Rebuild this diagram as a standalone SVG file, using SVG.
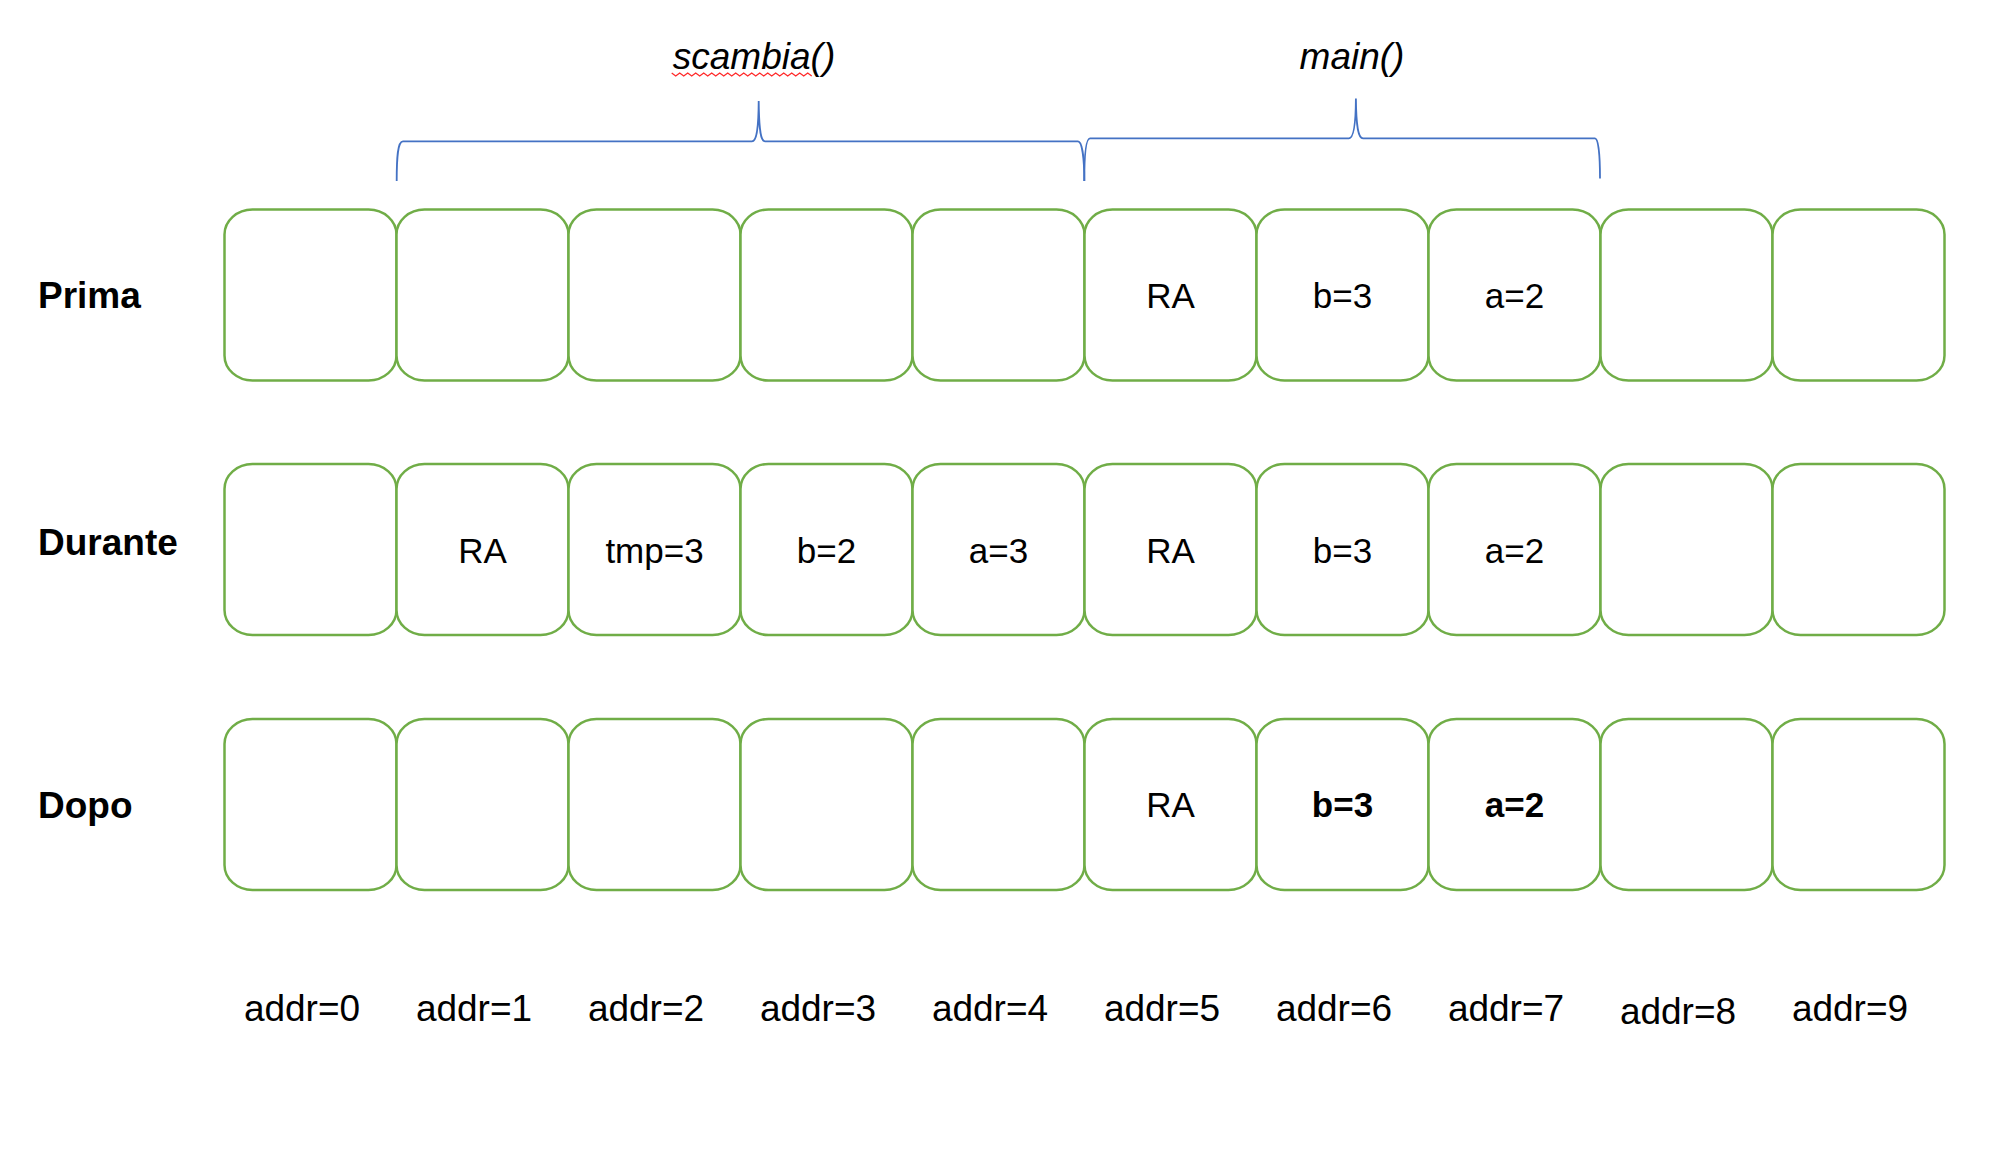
<svg xmlns="http://www.w3.org/2000/svg" width="2000" height="1168" viewBox="0 0 2000 1168">
<style>
.cell{fill:#ffffff;stroke:#70AD47;stroke-width:2.5}
.brace{fill:none;stroke:#4472C4;stroke-width:1.8}
.t{font-family:"Liberation Sans",Arial,sans-serif;fill:#000000}
.v{font-size:35px;text-anchor:middle}
.vb{font-size:35px;text-anchor:middle;font-weight:bold}
.row{font-size:37px;font-weight:bold}
.addr{font-size:37px;text-anchor:middle}
.fn{font-size:37px;font-style:italic;text-anchor:middle}
</style>
<defs>
<rect id="c" class="cell" width="172" height="171" rx="28" ry="25"/>
</defs>
<rect width="2000" height="1168" fill="#ffffff"/>

<g id="connectors">
<path class="brace" d="M396.7 181 C396.7 158 397.5 141.3 403 141.3 L752 141.3 C756 141.3 758.5 132 758.7 101 C759 132 761 141.3 765 141.3 L1078 141.3 C1082 141.3 1084.3 158 1084.3 181"/>
<path class="brace" d="M1084.3 181 C1084.3 158 1085.5 138.3 1090 138.3 L1349 138.3 C1353 138.3 1355.7 128 1355.9 98.5 C1356.2 128 1358.5 138.3 1363 138.3 L1595 138.3 C1598.5 138.3 1600 156 1600 178.5"/>
<path d="M671.7 73 l4 3 l4 -3 l4 3 l4 -3 l4 3 l4 -3 l4 3 l4 -3 l4 3 l4 -3 l4 3 l4 -3 l4 3 l4 -3 l4 3 l4 -3 l4 3 l4 -3 l4 3 l4 -3 l4 3 l4 -3 l4 3 l4 -3 l4 3 l4 -3 l4 3 l4 -3 l4 3 l4 -3 l4 3 l4 -3 l4 3 l4 -3 l4 3" fill="none" stroke="#FF2A2A" stroke-width="1.3"/>
</g>

<g id="labels-top">
<text class="t fn" x="754" y="69">scambia()</text>
<text class="t fn" x="1352" y="69">main()</text>
</g>

<g id="row-prima">
<text class="t row" x="38" y="308">Prima</text>
<use href="#c" x="224.5" y="209.5"/>
<use href="#c" x="396.5" y="209.5"/>
<use href="#c" x="568.5" y="209.5"/>
<use href="#c" x="740.5" y="209.5"/>
<use href="#c" x="912.5" y="209.5"/>
<use href="#c" x="1084.5" y="209.5"/>
<use href="#c" x="1256.5" y="209.5"/>
<use href="#c" x="1428.5" y="209.5"/>
<use href="#c" x="1600.5" y="209.5"/>
<use href="#c" x="1772.5" y="209.5"/>
<text class="t v" x="1170.5" y="308">RA</text>
<text class="t v" x="1342.5" y="308">b=3</text>
<text class="t v" x="1514.5" y="308">a=2</text>
</g>

<g id="row-durante">
<text class="t row" x="38" y="555">Durante</text>
<use href="#c" x="224.5" y="464"/>
<use href="#c" x="396.5" y="464"/>
<use href="#c" x="568.5" y="464"/>
<use href="#c" x="740.5" y="464"/>
<use href="#c" x="912.5" y="464"/>
<use href="#c" x="1084.5" y="464"/>
<use href="#c" x="1256.5" y="464"/>
<use href="#c" x="1428.5" y="464"/>
<use href="#c" x="1600.5" y="464"/>
<use href="#c" x="1772.5" y="464"/>
<text class="t v" x="482.5" y="563">RA</text>
<text class="t v" x="654.5" y="563">tmp=3</text>
<text class="t v" x="826.5" y="563">b=2</text>
<text class="t v" x="998.5" y="563">a=3</text>
<text class="t v" x="1170.5" y="563">RA</text>
<text class="t v" x="1342.5" y="563">b=3</text>
<text class="t v" x="1514.5" y="563">a=2</text>
</g>

<g id="row-dopo">
<text class="t row" x="38" y="818">Dopo</text>
<use href="#c" x="224.5" y="719"/>
<use href="#c" x="396.5" y="719"/>
<use href="#c" x="568.5" y="719"/>
<use href="#c" x="740.5" y="719"/>
<use href="#c" x="912.5" y="719"/>
<use href="#c" x="1084.5" y="719"/>
<use href="#c" x="1256.5" y="719"/>
<use href="#c" x="1428.5" y="719"/>
<use href="#c" x="1600.5" y="719"/>
<use href="#c" x="1772.5" y="719"/>
<text class="t v" x="1170.5" y="817">RA</text>
<text class="t vb" x="1342.5" y="817">b=3</text>
<text class="t vb" x="1514.5" y="817">a=2</text>
</g>

<g id="addresses">
<text class="t addr" x="302" y="1021">addr=0</text>
<text class="t addr" x="474" y="1021">addr=1</text>
<text class="t addr" x="646" y="1021">addr=2</text>
<text class="t addr" x="818" y="1021">addr=3</text>
<text class="t addr" x="990" y="1021">addr=4</text>
<text class="t addr" x="1162" y="1021">addr=5</text>
<text class="t addr" x="1334" y="1021">addr=6</text>
<text class="t addr" x="1506" y="1021">addr=7</text>
<text class="t addr" x="1678" y="1024">addr=8</text>
<text class="t addr" x="1850" y="1021">addr=9</text>
</g>
</svg>
